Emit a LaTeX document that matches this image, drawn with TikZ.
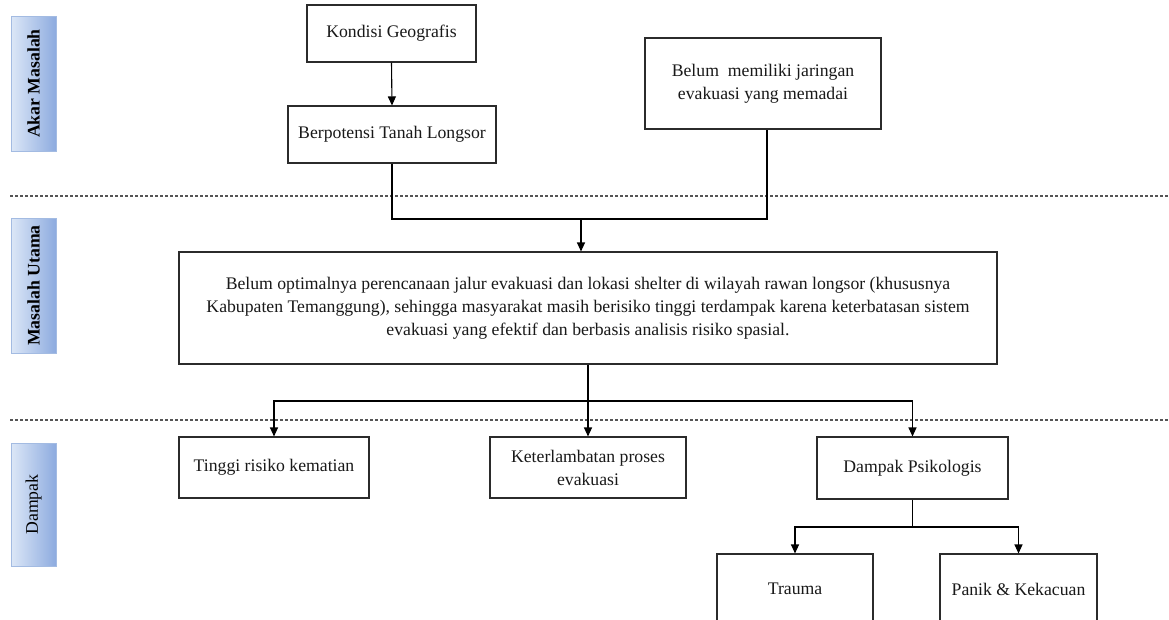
\documentclass[tikz,border=0pt]{standalone}
\usepackage{fontspec}
\usepackage{graphicx}
\setmainfont{Liberation Serif}
\usetikzlibrary{arrows.meta,calc}
\definecolor{sideL}{HTML}{DCE7F7}
\definecolor{sideR}{HTML}{8DABDF}
\definecolor{sideB}{HTML}{A3BBE2}
\definecolor{boxline}{HTML}{2B2B2B}
\definecolor{dashc}{HTML}{555555}
\newcommand{\fsz}{\fontsize{17.7}{23}\selectfont}
\tikzset{
  box/.style={draw=boxline, line width=1.1pt, fill=white, align=center, inner sep=0pt, font=\fsz, text=black!90},
  sidebox/.style={draw=sideB, line width=1pt, left color=sideL, right color=sideR, inner sep=0pt, minimum width=45pt, font=\fsz, text=black},
  conn/.style={draw=black, line width=1.1pt},
  arr/.style={conn, -{Triangle[length=9pt,width=8pt]}},
  sep/.style={draw=dashc, line width=1.1pt, dash pattern=on 3pt off 2pt}
}
\begin{document}
\begin{tikzpicture}[x=1pt,y=-1pt]
\useasboundingbox (0,0) rectangle (1169,619);
\fill[white] (0,0) rectangle (1169,619);
\clip (0,0) rectangle (1169,619);

% side labels
\node[sidebox, minimum height=135pt] (s1) at (33.5,83.5) {\rotatebox{90}{\bfseries Akar Masalah}};
\node[sidebox, minimum height=135pt] (s2) at (33.5,285.5) {\rotatebox{90}{\bfseries Masalah Utama}};
\node[sidebox, minimum height=123pt] (s3) at (33.5,504.5) {\rotatebox{90}{Dampak}};

% separators
\draw[sep] (10,196) -- (1169,196);
\draw[sep] (10,420) -- (1169,420);

% boxes
\node[box, minimum width=169pt, minimum height=57pt] (kg) at (391.5,33.5) {Kondisi Geografis};
\node[box, minimum width=208pt, minimum height=57pt] (bt) at (392,134.5) {Berpotensi Tanah Longsor};
\node[box, minimum width=236pt, minimum height=91pt] (bj) at (763,83.5) {Belum~ memiliki jaringan\\evakuasi yang memadai};
\node[box, minimum width=818pt, minimum height=112pt] (mu) at (588,308) {Belum optimalnya perencanaan jalur evakuasi dan lokasi shelter di wilayah rawan longsor (khususnya\\Kabupaten Temanggung), sehingga masyarakat masih berisiko tinggi terdampak karena keterbatasan sistem\\evakuasi yang efektif dan berbasis analisis risiko spasial.};
\node[box, minimum width=190pt, minimum height=61pt] (tr) at (274,467.5) {Tinggi risiko kematian};
\node[box, minimum width=196pt, minimum height=61pt] (kp) at (588,467.5) {Keterlambatan proses\\evakuasi};
\node[box, minimum width=191pt, minimum height=62pt] (dp) at (912.5,468) {Dampak Psikologis};
\node[box, minimum width=156pt, minimum height=70pt] (ta) at (795,589) {Trauma};
\node[box, minimum width=157pt, minimum height=70pt] (pk) at (1018.5,589) {Panik \& Kekacuan};

% connectors
\coordinate (j1) at (581,219);
\coordinate (j2) at (588,401);
\coordinate (j3) at (912.5,527);
\draw[arr] (kg.south) -- (bt.north);
\draw[conn] (bt.south) |- (j1) -| ([xshift=4pt]bj.south);
\draw[arr] (j1) -- (j1 |- mu.north);
\draw[conn] (mu.south) -- (j2);
\draw[arr] (j2) -| (tr.north);
\draw[arr] (j2) -- (kp.north);
\draw[arr] (j2) -| (dp.north);
\draw[conn] (dp.south) -- (j3);
\draw[arr] (j3) -| (ta.north);
\draw[arr] (j3) -| (pk.north);
\end{tikzpicture}
\end{document}
